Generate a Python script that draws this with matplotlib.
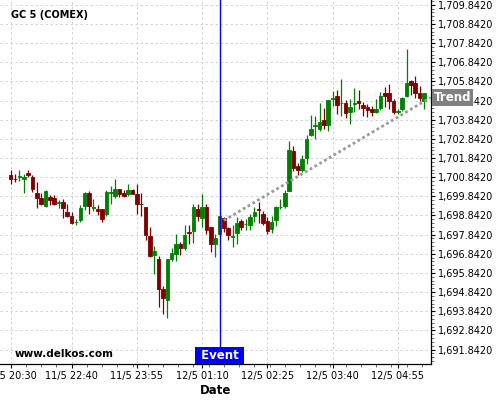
import matplotlib
matplotlib.use("Agg")
import matplotlib.pyplot as plt
import matplotlib.transforms as mtransforms
from matplotlib.ticker import FixedLocator, AutoMinorLocator, FuncFormatter
import numpy as np
import pandas as pd

# ---------------- data ----------------
symbol = "GC 5 (COMEX)"
session1 = pd.date_range("2020-05-11 20:30", periods=14, freq="5min")
session2 = pd.date_range("2020-05-11 22:40", periods=82, freq="5min")
times = session1.append(session2)

opens = [1700.95, 1700.77, 1700.86, 1700.74, 1701.04, 1700.84, 1700.01, 1699.76, 1699.35, 1699.83,
         1699.76, 1699.50, 1699.54, 1699.02, 1698.81, 1698.48, 1698.60, 1699.35, 1700.01, 1699.24,
         1699.18, 1699.16, 1698.90, 1700.02, 1699.87, 1700.25, 1700.03, 1699.98, 1700.17, 1699.98,
         1699.46, 1699.29, 1697.78, 1696.80, 1696.59, 1694.99, 1694.41, 1696.59, 1696.81, 1697.33,
         1697.15, 1697.98, 1698.02, 1699.19, 1698.71, 1699.31, 1698.23, 1697.36, 1697.85, 1698.70,
         1698.20, 1697.72, 1697.92, 1698.55, 1698.38, 1698.32, 1698.79, 1699.19, 1698.93, 1698.55,
         1698.16, 1698.59, 1699.27, 1699.35, 1700.14, 1702.20, 1701.44, 1701.20, 1701.86, 1703.06,
         1703.51, 1703.37, 1703.84, 1703.58, 1704.93, 1705.06, 1704.69, 1704.72, 1704.22, 1704.67,
         1704.82, 1704.61, 1704.49, 1704.40, 1704.22, 1704.45, 1705.22, 1705.22, 1704.83, 1704.26,
         1704.40, 1705.09, 1705.84, 1705.74, 1705.22, 1704.83]
highs = [1701.21, 1701.03, 1701.21, 1701.03, 1701.21, 1700.98, 1700.60, 1699.99, 1700.16, 1699.90,
         1699.90, 1699.64, 1699.68, 1699.42, 1699.00, 1698.65, 1699.38, 1700.08, 1700.11, 1699.68,
         1699.37, 1699.20, 1700.15, 1700.38, 1700.77, 1700.25, 1700.19, 1700.46, 1700.20, 1700.46,
         1700.03, 1699.29, 1698.26, 1697.26, 1696.74, 1695.18, 1696.59, 1697.17, 1697.87, 1697.47,
         1698.32, 1698.32, 1699.45, 1699.45, 1699.97, 1699.45, 1698.23, 1697.89, 1698.79, 1698.75,
         1698.23, 1698.32, 1698.75, 1698.67, 1698.67, 1698.93, 1699.28, 1699.54, 1699.10, 1698.78,
         1698.80, 1699.36, 1699.72, 1700.19, 1702.71, 1702.46, 1701.57, 1701.98, 1703.03, 1704.10,
         1704.02, 1704.71, 1704.45, 1704.89, 1705.35, 1705.41, 1705.96, 1704.89, 1704.92, 1705.49,
         1705.39, 1704.75, 1704.66, 1704.57, 1704.92, 1705.27, 1705.53, 1705.70, 1704.92, 1704.40,
         1705.01, 1707.55, 1705.91, 1706.14, 1705.62, 1705.22]
lows = [1700.51, 1700.60, 1700.63, 1699.99, 1700.86, 1700.08, 1699.21, 1699.38, 1699.30, 1699.41,
        1699.38, 1699.21, 1698.69, 1698.77, 1698.42, 1698.32, 1698.51, 1699.12, 1698.90, 1699.08,
        1698.87, 1698.52, 1698.82, 1699.46, 1699.77, 1699.80, 1699.80, 1699.86, 1699.94, 1698.94,
        1698.82, 1697.55, 1696.66, 1695.79, 1694.06, 1693.68, 1693.51, 1696.45, 1696.48, 1696.79,
        1697.02, 1697.36, 1697.40, 1698.58, 1698.23, 1697.89, 1696.93, 1696.70, 1697.71, 1697.97,
        1697.54, 1697.19, 1697.33, 1698.06, 1698.06, 1698.06, 1698.49, 1698.44, 1698.32, 1697.85,
        1697.93, 1698.28, 1699.19, 1699.23, 1700.11, 1701.16, 1700.97, 1701.10, 1701.55, 1702.97,
        1702.83, 1703.23, 1703.35, 1703.23, 1704.55, 1704.12, 1704.02, 1703.93, 1703.62, 1704.22,
        1704.40, 1704.05, 1703.99, 1704.05, 1704.17, 1704.35, 1704.49, 1704.40, 1704.14, 1704.14,
        1704.31, 1705.01, 1705.15, 1704.97, 1704.83, 1704.40]
closes = [1700.74, 1700.74, 1700.88, 1700.84, 1700.95, 1700.25, 1699.76, 1699.45, 1700.11, 1699.64,
          1699.45, 1699.52, 1699.24, 1698.81, 1698.46, 1698.51, 1699.24, 1700.01, 1699.35, 1699.27,
          1699.08, 1698.64, 1700.06, 1700.04, 1700.25, 1699.98, 1699.87, 1700.17, 1699.98, 1699.42,
          1699.43, 1697.81, 1696.71, 1696.99, 1694.99, 1694.53, 1696.59, 1696.88, 1697.33, 1697.14,
          1697.80, 1697.95, 1699.31, 1698.79, 1699.31, 1698.09, 1697.33, 1697.67, 1698.79, 1698.20,
          1697.80, 1697.75, 1698.44, 1698.23, 1698.41, 1698.75, 1699.02, 1699.14, 1698.44, 1698.05,
          1698.49, 1699.27, 1699.30, 1700.02, 1702.28, 1701.33, 1701.20, 1701.81, 1702.84, 1703.35,
          1703.54, 1703.70, 1703.58, 1704.89, 1704.97, 1704.59, 1704.73, 1704.20, 1704.52, 1704.70,
          1704.73, 1704.43, 1704.35, 1704.22, 1704.40, 1705.09, 1705.09, 1704.83, 1704.22, 1704.29,
          1704.97, 1705.74, 1705.65, 1705.22, 1704.97, 1705.22]

event_time = pd.Timestamp("2020-05-12 01:30")
trend_start_time = pd.Timestamp("2020-05-12 01:35")  # ends at right edge
trend_prices = [1698.58, 1705.00]

y_ticks = [1691.842 + k for k in range(19)]
x_tick_times = [pd.Timestamp(t) for t in ["2020-05-11 20:30", "2020-05-11 22:40", "2020-05-11 23:55",
                                           "2020-05-12 01:10", "2020-05-12 02:25", "2020-05-12 03:40",
                                           "2020-05-12 04:55"]]

# ---------------- plot ----------------
o = np.array(opens); h = np.array(highs); l = np.array(lows); c = np.array(closes)
idx = np.arange(len(times))
pos = {t: i for i, t in enumerate(times)}

fig = plt.figure(figsize=(5, 4), dpi=100)
ax = fig.add_axes([0.0, 0.09, 430.7 / 500, 0.91])

x_left, x_right = -2.46, 96.55
ax.set_xlim(x_left, x_right)
ax.set_ylim(1691.09, 1710.09)

up = c >= o
colors = np.where(up, "#008000", "#800000")
ax.vlines(idx, l, h, colors=colors, linewidth=0.9, zorder=3)
body_bottom = np.minimum(o, c)
body_h = np.maximum(np.abs(c - o), 0.03)
ax.bar(idx, body_h, bottom=body_bottom, width=0.82, color=colors, edgecolor=colors,
       linewidth=0.6, zorder=4)

# event line
ev_x = pos[event_time]
ax.axvline(ev_x, color="#0000ff", linewidth=1.0, zorder=5)
ax.annotate(" Event ", xy=(ev_x, 0), xycoords=("data", "axes fraction"),
            xytext=(0, 1.3), textcoords="offset points", ha="center", va="bottom",
            color="white", fontsize=8.5, fontweight="bold",
            bbox=dict(boxstyle="square,pad=0.15", fc="#0000ff", ec="none"), zorder=6)

# trend line
tx = [pos[trend_start_time], x_right]
ax.plot(tx, trend_prices, color="#999999", linewidth=2.0, linestyle=(0, (1, 1)), zorder=5)
trans = mtransforms.blended_transform_factory(ax.transAxes, ax.transData)
ax.text(1.0 + 3 / 430.7, trend_prices[1], "Trend", transform=trans, ha="left", va="center",
        color="white", fontsize=8.5, fontweight="bold", clip_on=False,
        bbox=dict(boxstyle="square,pad=0.15", fc="#808080", ec="none"), zorder=10)

# texts
ax.text(11 / 430.7, 1 - 15.5 / 364, symbol, transform=ax.transAxes, ha="left", va="center",
        fontsize=7, fontweight="bold")
ax.text(15 / 430.7, 10 / 364, "www.delkos.com", transform=ax.transAxes, ha="left", va="center",
        fontsize=7.5, fontweight="bold")

# axes styling
ax.spines["left"].set_visible(False)
ax.spines["top"].set_visible(False)
ax.spines["right"].set_linewidth(0.9)
ax.spines["bottom"].set_linewidth(0.9)

ax.yaxis.tick_right()
ax.yaxis.set_major_locator(FixedLocator(y_ticks))
ax.yaxis.set_major_formatter(FuncFormatter(lambda v, p: f"{v:,.4f}"))
ax.yaxis.set_minor_locator(AutoMinorLocator(5))

xt = [pos[t] for t in x_tick_times]
ax.set_xticks(xt)
ax.set_xticklabels([f"{t.day}/{t.month} {t:%H:%M}" for t in x_tick_times])
ax.xaxis.set_minor_locator(AutoMinorLocator(4))

ax.tick_params(axis="both", which="major", length=3, width=0.8, labelsize=7, pad=2, colors="black")
ax.tick_params(axis="both", which="minor", length=2, width=0.6, color="#555555")

ax.grid(True, which="major", color="#cccccc", linestyle=(0, (3, 3)), linewidth=0.6)
ax.set_axisbelow(True)

ax.set_xlabel("Date", fontsize=8.5, fontweight="bold", labelpad=2)

fig.savefig("out.png", dpi=100)
